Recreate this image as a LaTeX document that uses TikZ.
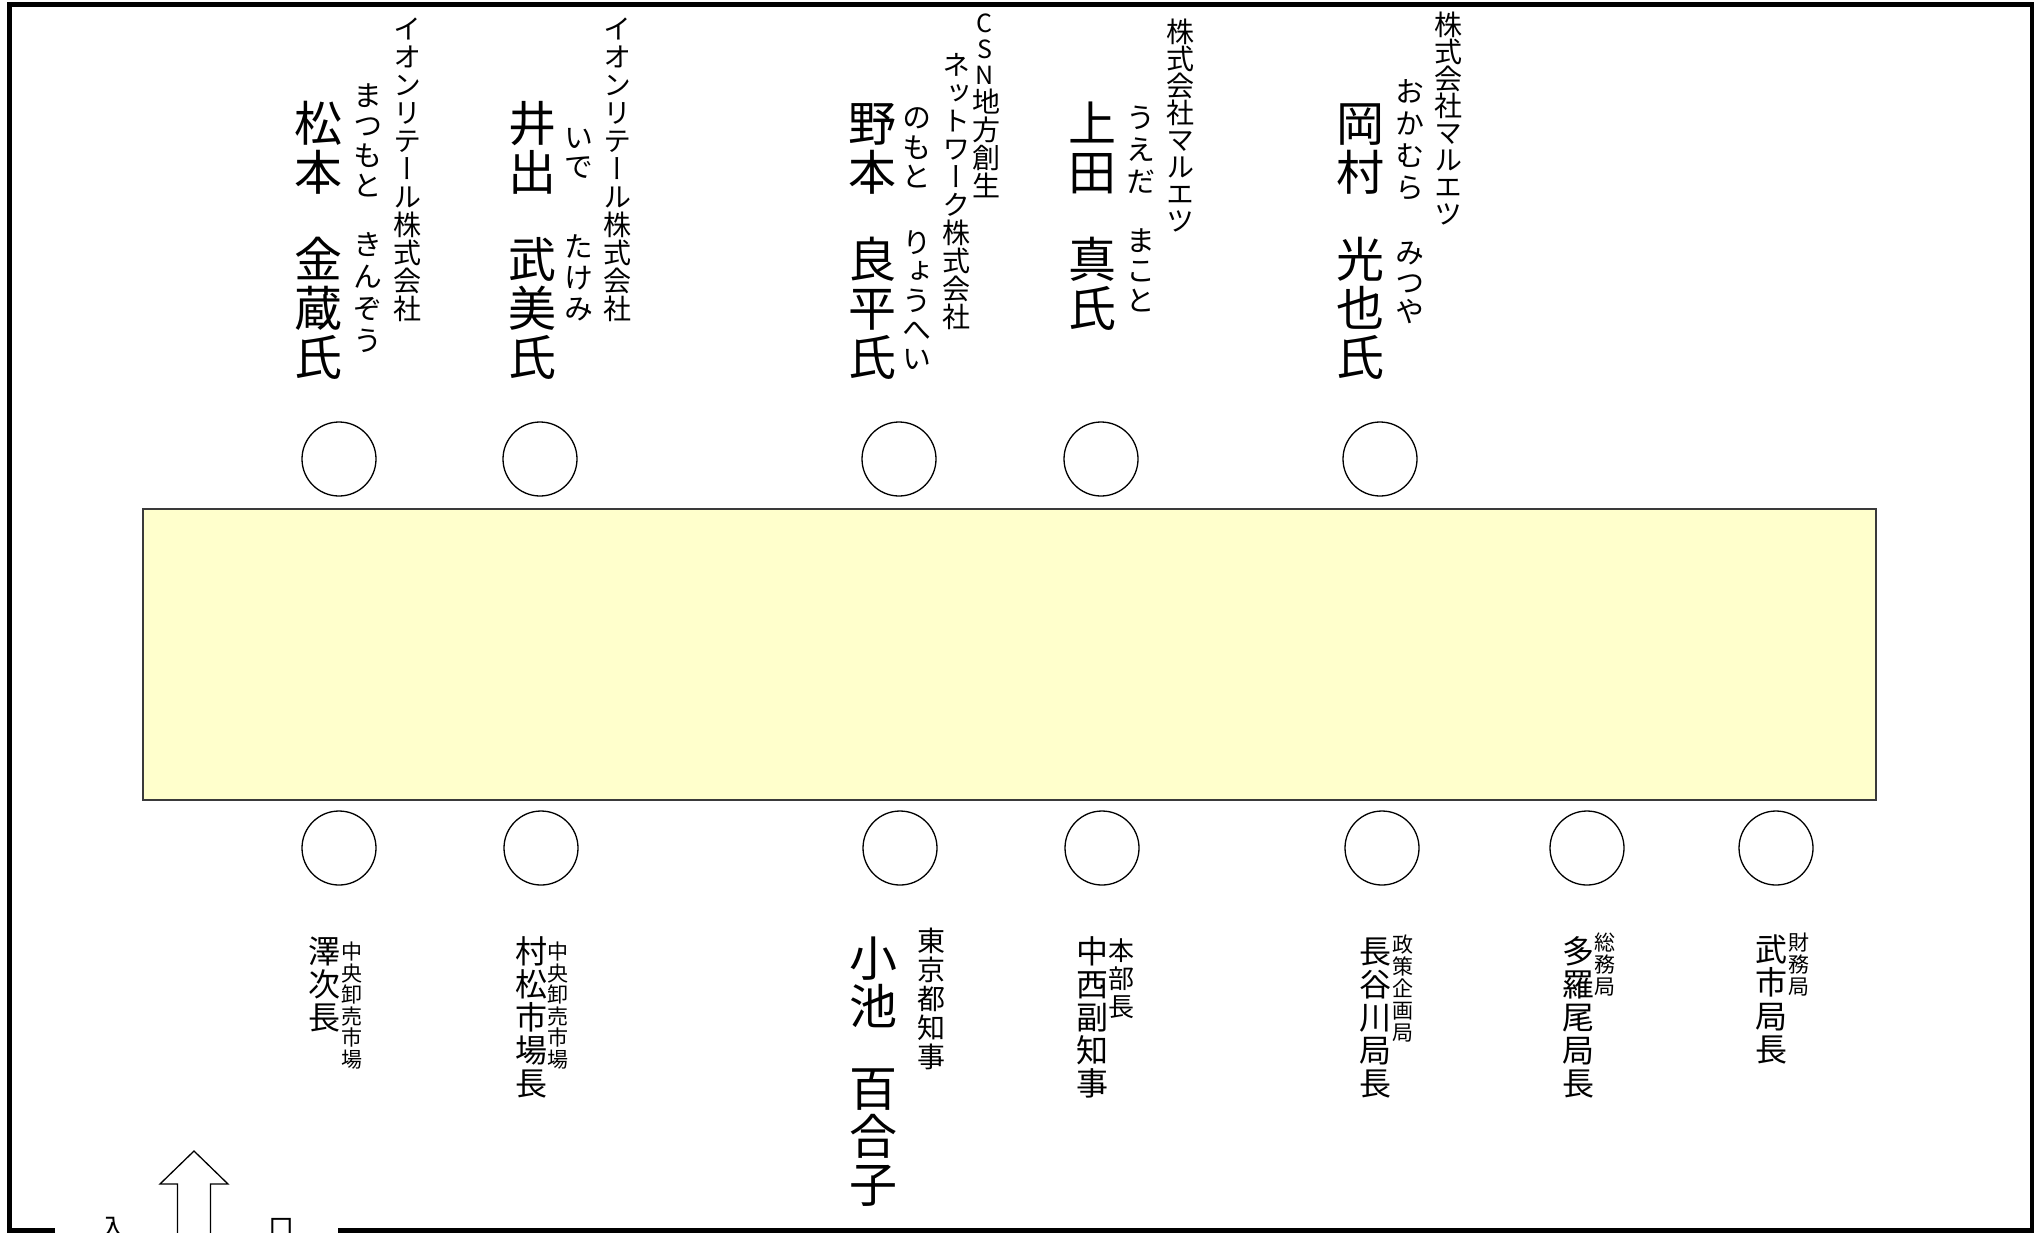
\documentclass[tikz,border=0pt]{standalone}
\usepackage{fontspec}
\newfontfamily\jp[RawFeature=+vert]{Noto Sans CJK JP}
\newfontfamily\jph{Noto Sans CJK JP}
\newcommand\jpf[1]{\jp\fontsize{#1}{#1}\selectfont}
\ExplSyntaxOn
\dim_new:N \l_vc_h_dim
\dim_new:N \l_vc_d_dim
\NewDocumentCommand\vc{mm}
  {
    \dim_set:Nn \l_vc_h_dim { (#1) / 2 + 0.38em }
    \dim_set:Nn \l_vc_d_dim { (#1) / 2 - 0.38em }
    \tl_map_inline:nn {#2}
      {
        \hbox to 1em { \hss \vrule height \l_vc_h_dim depth \l_vc_d_dim width 0pt \relax ##1 \hss }
      }
  }
\ExplSyntaxOff
\newcommand\vcol[1]{\vbox{\offinterlineskip #1}}
\definecolor{tablefill}{HTML}{FFFFCC}
\definecolor{tableline}{HTML}{3A3A3A}
\tikzset{
  seat/.style={circle, draw=black, line width=1.3pt, minimum size=74pt, inner sep=0pt, fill=white},
  vlabel/.style={anchor=north, inner sep=0pt},
  wall/.style={line width=4.6pt, line join=miter, line cap=butt},
  desk/.style={draw=tableline, line width=1.4pt, fill=tablefill, minimum width=1733pt, minimum height=291pt, inner sep=0pt},
  entrarrow/.style={line width=1.3pt, line join=miter},
}
\begin{document}
\begin{tikzpicture}[x=1pt,y=-1pt]
\useasboundingbox (0,0) rectangle (2044,1232);
\fill[white] (0,0) rectangle (2044,1232);
\clip (0,0) rectangle (2044,1232);

% walls
\draw[wall] (55,1230.5) -- (9.3,1230.5) -- (9.3,4.7) -- (2032,4.7) -- (2032,1230.5) -- (338,1230.5);

% table
\node[desk] (table) at (1009.5,654.5) {};

% seats top
\node[seat] (t1) at (339,459) {};
\node[seat] (t2) at (540,459) {};
\node[seat] (t3) at (899,459) {};
\node[seat] (t4) at (1101,459) {};
\node[seat] (t5) at (1380,459) {};
% seats bottom
\node[seat] (b1) at (339,848) {};
\node[seat] (b2) at (541,848) {};
\node[seat] (b3) at (900,848) {};
\node[seat] (b4) at (1102,848) {};
\node[seat] (b5) at (1382,848) {};
\node[seat] (b6) at (1587,848) {};
\node[seat] (b7) at (1776,848) {};

% top labels: Matsumoto
\node[vlabel, font=\jpf{28}] (t1co) at (407,15) {\vcol{\vc{28pt}{イオンリテール株式会社}}};
\node[vlabel, font=\jpf{29}] (t1rd) at (368,80) {\vcol{\vc{30pt}{まつもと}\kern28pt\vc{32pt}{きんぞう}}};
\node[vlabel, font=\jpf{48}] (t1nm) at (318,99) {\vcol{\vc{49pt}{松本}\kern38pt\vc{49pt}{金蔵氏}}};
% Ide
\node[vlabel, font=\jpf{28}] (t2co) at (617,15) {\vcol{\vc{28pt}{イオンリテール株式会社}}};
\node[vlabel, font=\jpf{29}] (t2rd) at (579,123) {\vcol{\vc{29pt}{いで}\kern50pt\vc{31pt}{たけみ}}};
\node[vlabel, font=\jpf{48}] (t2nm) at (532,99) {\vcol{\vc{49pt}{井出}\kern38pt\vc{49pt}{武美氏}}};
% Nomoto
\node[vlabel, font=\jpf{28}] (t3co1) at (986,10) {\vcol{{\fontsize{25}{25}\selectfont\vc{26pt}{CSN}}\vc{28pt}{地方創生}}};
\node[vlabel, font=\jpf{28}] (t3co2) at (956,51) {\vcol{\vc{28pt}{ネットワーク株式会社}}};
\node[vlabel, font=\jpf{29}] (t3rd) at (917,103) {\vcol{\vc{29.5pt}{のもと}\kern36.5pt\vc{29pt}{りょうへい}}};
\node[vlabel, font=\jpf{48}] (t3nm) at (872,99) {\vcol{\vc{49pt}{野本}\kern38pt\vc{49pt}{良平氏}}};
% Ueda
\node[vlabel, font=\jpf{28}] (t4co) at (1180,18) {\vcol{\vc{27pt}{株式会社マルエツ}}};
\node[vlabel, font=\jpf{29}] (t4rd) at (1141,101) {\vcol{\vc{32pt}{うえだ}\kern28pt\vc{30pt}{まこと}}};
\node[vlabel, font=\jpf{48}] (t4nm) at (1092,99) {\vcol{\vc{49pt}{上田}\kern38pt\vc{49pt}{真氏}}};
% Okamura
\node[vlabel, font=\jpf{28}] (t5co) at (1448,11) {\vcol{\vc{27pt}{株式会社マルエツ}}};
\node[vlabel, font=\jpf{29}] (t5rd) at (1410,75) {\vcol{\vc{32pt}{おかむら}\kern35pt\vc{29.5pt}{みつや}}};
\node[vlabel, font=\jpf{48}] (t5nm) at (1360,99) {\vcol{\vc{49pt}{岡村}\kern38pt\vc{49pt}{光也氏}}};

% bottom labels
\node[vlabel, font=\jpf{32}] (b1nm) at (324,935) {\vcol{\vc{33pt}{澤次長}}};
\node[vlabel, font=\jpf{21}] (b1ti) at (352,941) {\vcol{\vc{21.5pt}{中央卸売市場}}};
\node[vlabel, font=\jpf{32}] (b2nm) at (531,935) {\vcol{\vc{33pt}{村松市場長}}};
\node[vlabel, font=\jpf{21}] (b2ti) at (558,941) {\vcol{\vc{21.5pt}{中央卸売市場}}};
\node[vlabel, font=\jpf{48}] (b3nm) at (873,934) {\vcol{\vc{48pt}{小池}\kern34pt\vc{48pt}{百合子}}};
\node[vlabel, font=\jpf{28}] (b3ti) at (931,926) {\vcol{\vc{29pt}{東京都知事}}};
\node[vlabel, font=\jpf{32}] (b4nm) at (1092,935) {\vcol{\vc{33pt}{中西副知事}}};
\node[vlabel, font=\jpf{26}] (b4ti) at (1121,936) {\vcol{\vc{28pt}{本部長}}};
\node[vlabel, font=\jpf{32}] (b5nm) at (1375,935) {\vcol{\vc{33pt}{長谷川局長}}};
\node[vlabel, font=\jpf{21}] (b5ti) at (1403,933) {\vcol{\vc{22pt}{政策企画局}}};
\node[vlabel, font=\jpf{32}] (b6nm) at (1578,935) {\vcol{\vc{33pt}{多羅尾局長}}};
\node[vlabel, font=\jpf{21}] (b6ti) at (1605,931) {\vcol{\vc{22pt}{総務局}}};
\node[vlabel, font=\jpf{32}] (b7nm) at (1771,932) {\vcol{\vc{33.5pt}{武市局長}}};
\node[vlabel, font=\jpf{21}] (b7ti) at (1799,931) {\vcol{\vc{22pt}{財務局}}};

% entrance
\draw[entrarrow] (177.5,1245) -- (177.5,1184) -- (160,1184) -- (194,1151) -- (228,1184) -- (210.5,1184) -- (210.5,1245);
\node[anchor=north, inner sep=0pt, font=\jph\fontsize{26}{26}\selectfont] (entr) at (197,1217) {入\hspace{142pt}口};
\end{tikzpicture}
\end{document}
